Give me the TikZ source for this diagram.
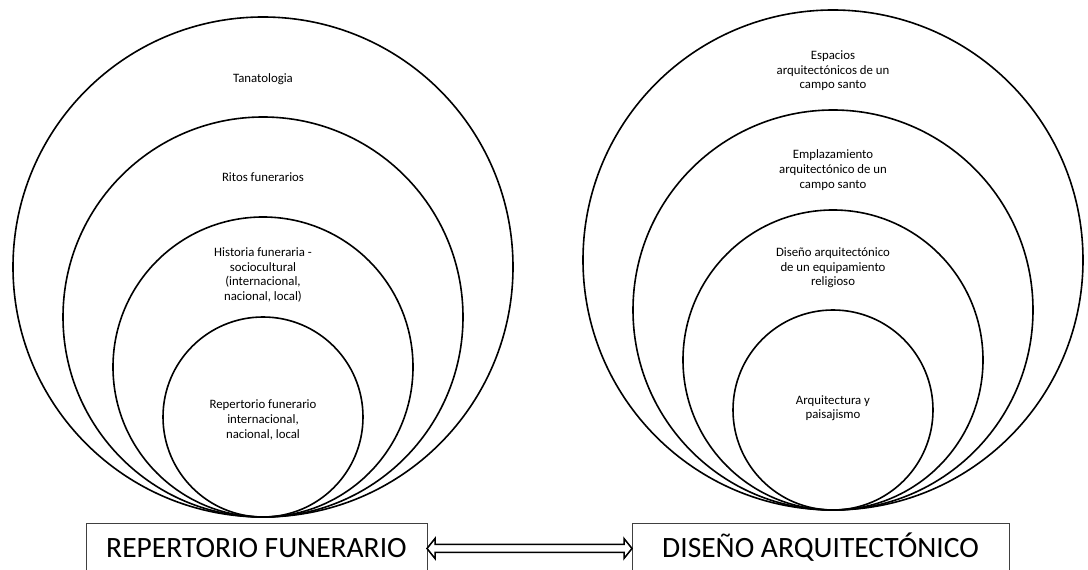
\documentclass[tikz,border=0pt]{standalone}
\usepackage{fontspec}
\setmainfont{Carlito}
\usepackage{tikz}
\usetikzlibrary{calc}

\begin{document}
\begin{tikzpicture}[x=1pt,y=1pt,
    ring/.style={circle,draw,line width=1.6pt,inner sep=0pt,outer sep=0pt,anchor=south},
    lbl/.style={align=center,font=\fontsize{12.8}{14.6}\selectfont},
    titlebox/.style={draw=black!75,line width=0.8pt,outer sep=0pt,minimum height=51pt,
        font=\fontsize{29.5}{32}\selectfont,text height=19pt,text depth=0pt},
    dblarrow/.style={line width=1.5pt}]
    \useasboundingbox (0,0) rectangle (1088,570);
    \coordinate (lbot) at (263,53);
    \coordinate (rbot) at (833,60);
    % repertorio
    \node[ring,minimum size=500pt] (tana) at (lbot) {};
    \node[ring,minimum size=400pt] (ritos) at (lbot) {};
    \node[ring,minimum size=300pt] (hist) at (lbot) {};
    \node[ring,minimum size=200pt] (repint) at (lbot) {};
    \node[lbl] (tanat) at (263,491) {Tanatologia};
    \node[lbl] (ritost) at (263,393) {Ritos funerarios};
    \node[lbl] (histt) at (263,295) {Historia funeraria -\\sociocultural\\(internacional,\\nacional, local)};
    \node[lbl] (repintt) at (263,150) {Repertorio funerario\\internacional,\\nacional, local};
    % diseno
    \node[ring,minimum size=500pt] (esp) at (rbot) {};
    \node[ring,minimum size=400pt] (empl) at (rbot) {};
    \node[ring,minimum size=300pt] (equip) at (rbot) {};
    \node[ring,minimum size=200pt] (paisa) at (rbot) {};
    \node[lbl] (espt) at (833,499) {Espacios\\arquitectónicos de un\\campo santo};
    \node[lbl] (emplt) at (833,400) {Emplazamiento\\arquitectónico de un\\campo santo};
    \node[lbl] (equipt) at (833,302) {Diseño arquitectónico\\de un equipamiento\\religioso};
    \node[lbl] (paisat) at (833,162) {Arquitectura y\\paisajismo};
    % cajas
    \node[titlebox,minimum width=341pt] (rep) at (256.5,21.5) {REPERTORIO FUNERARIO};
    \node[titlebox,minimum width=377pt] (dis) at (820.5,21.5) {DISEÑO ARQUITECTÓNICO};
    \draw[dblarrow] (rep.east) -- ++(8,10) -- ++(0,-6) -- ($(dis.west)+(-8,4)$) -- ++(0,6)
        -- (dis.west) -- ++(-8,-10) -- ++(0,6) -- ($(rep.east)+(8,-4)$) -- ++(0,-6) -- cycle;
\end{tikzpicture}
\end{document}
